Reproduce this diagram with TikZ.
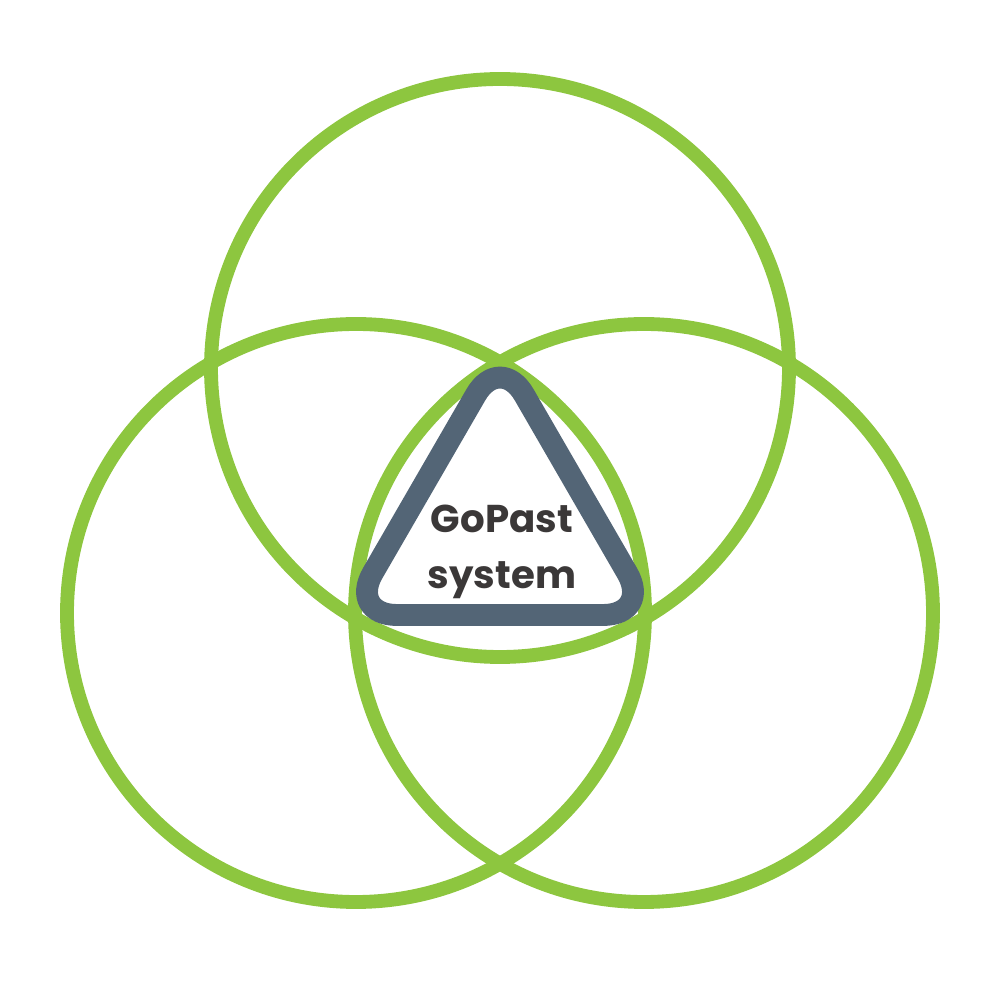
\documentclass[tikz,border=0pt]{standalone}
\usepackage{fontspec}
\setmainfont{Poppins}
\definecolor{leaf}{RGB}{141,198,63}
\definecolor{slate}{RGB}{83,101,118}
\definecolor{ink}{RGB}{59,56,56}
\tikzset{
  ring/.style={draw=leaf, line width=10pt},
  tribox/.style={draw=slate, line width=15.8pt, rounded corners=12.3mm, line join=round}
}
\begin{document}
\begin{tikzpicture}[x=0.254mm, y=0.254mm]
\useasboundingbox (0,0) rectangle (1000,1000);
% three overlapping rings
\draw [ring] (500,632) circle (289);
\draw [ring] (356,387) circle (289);
\draw [ring] (644,387) circle (289);
% the core
\coordinate (apex) at (500,647);
\coordinate (bl) at (348.5,385);
\coordinate (br) at (651.5,385);
\draw [tribox] (apex) -- (br) -- (bl) -- cycle;
\node (gopast) at (502,448) [align=center, text=ink, font=\bfseries\fontsize{28}{40}\selectfont] {GoPast\\system};
\end{tikzpicture}
\end{document}
